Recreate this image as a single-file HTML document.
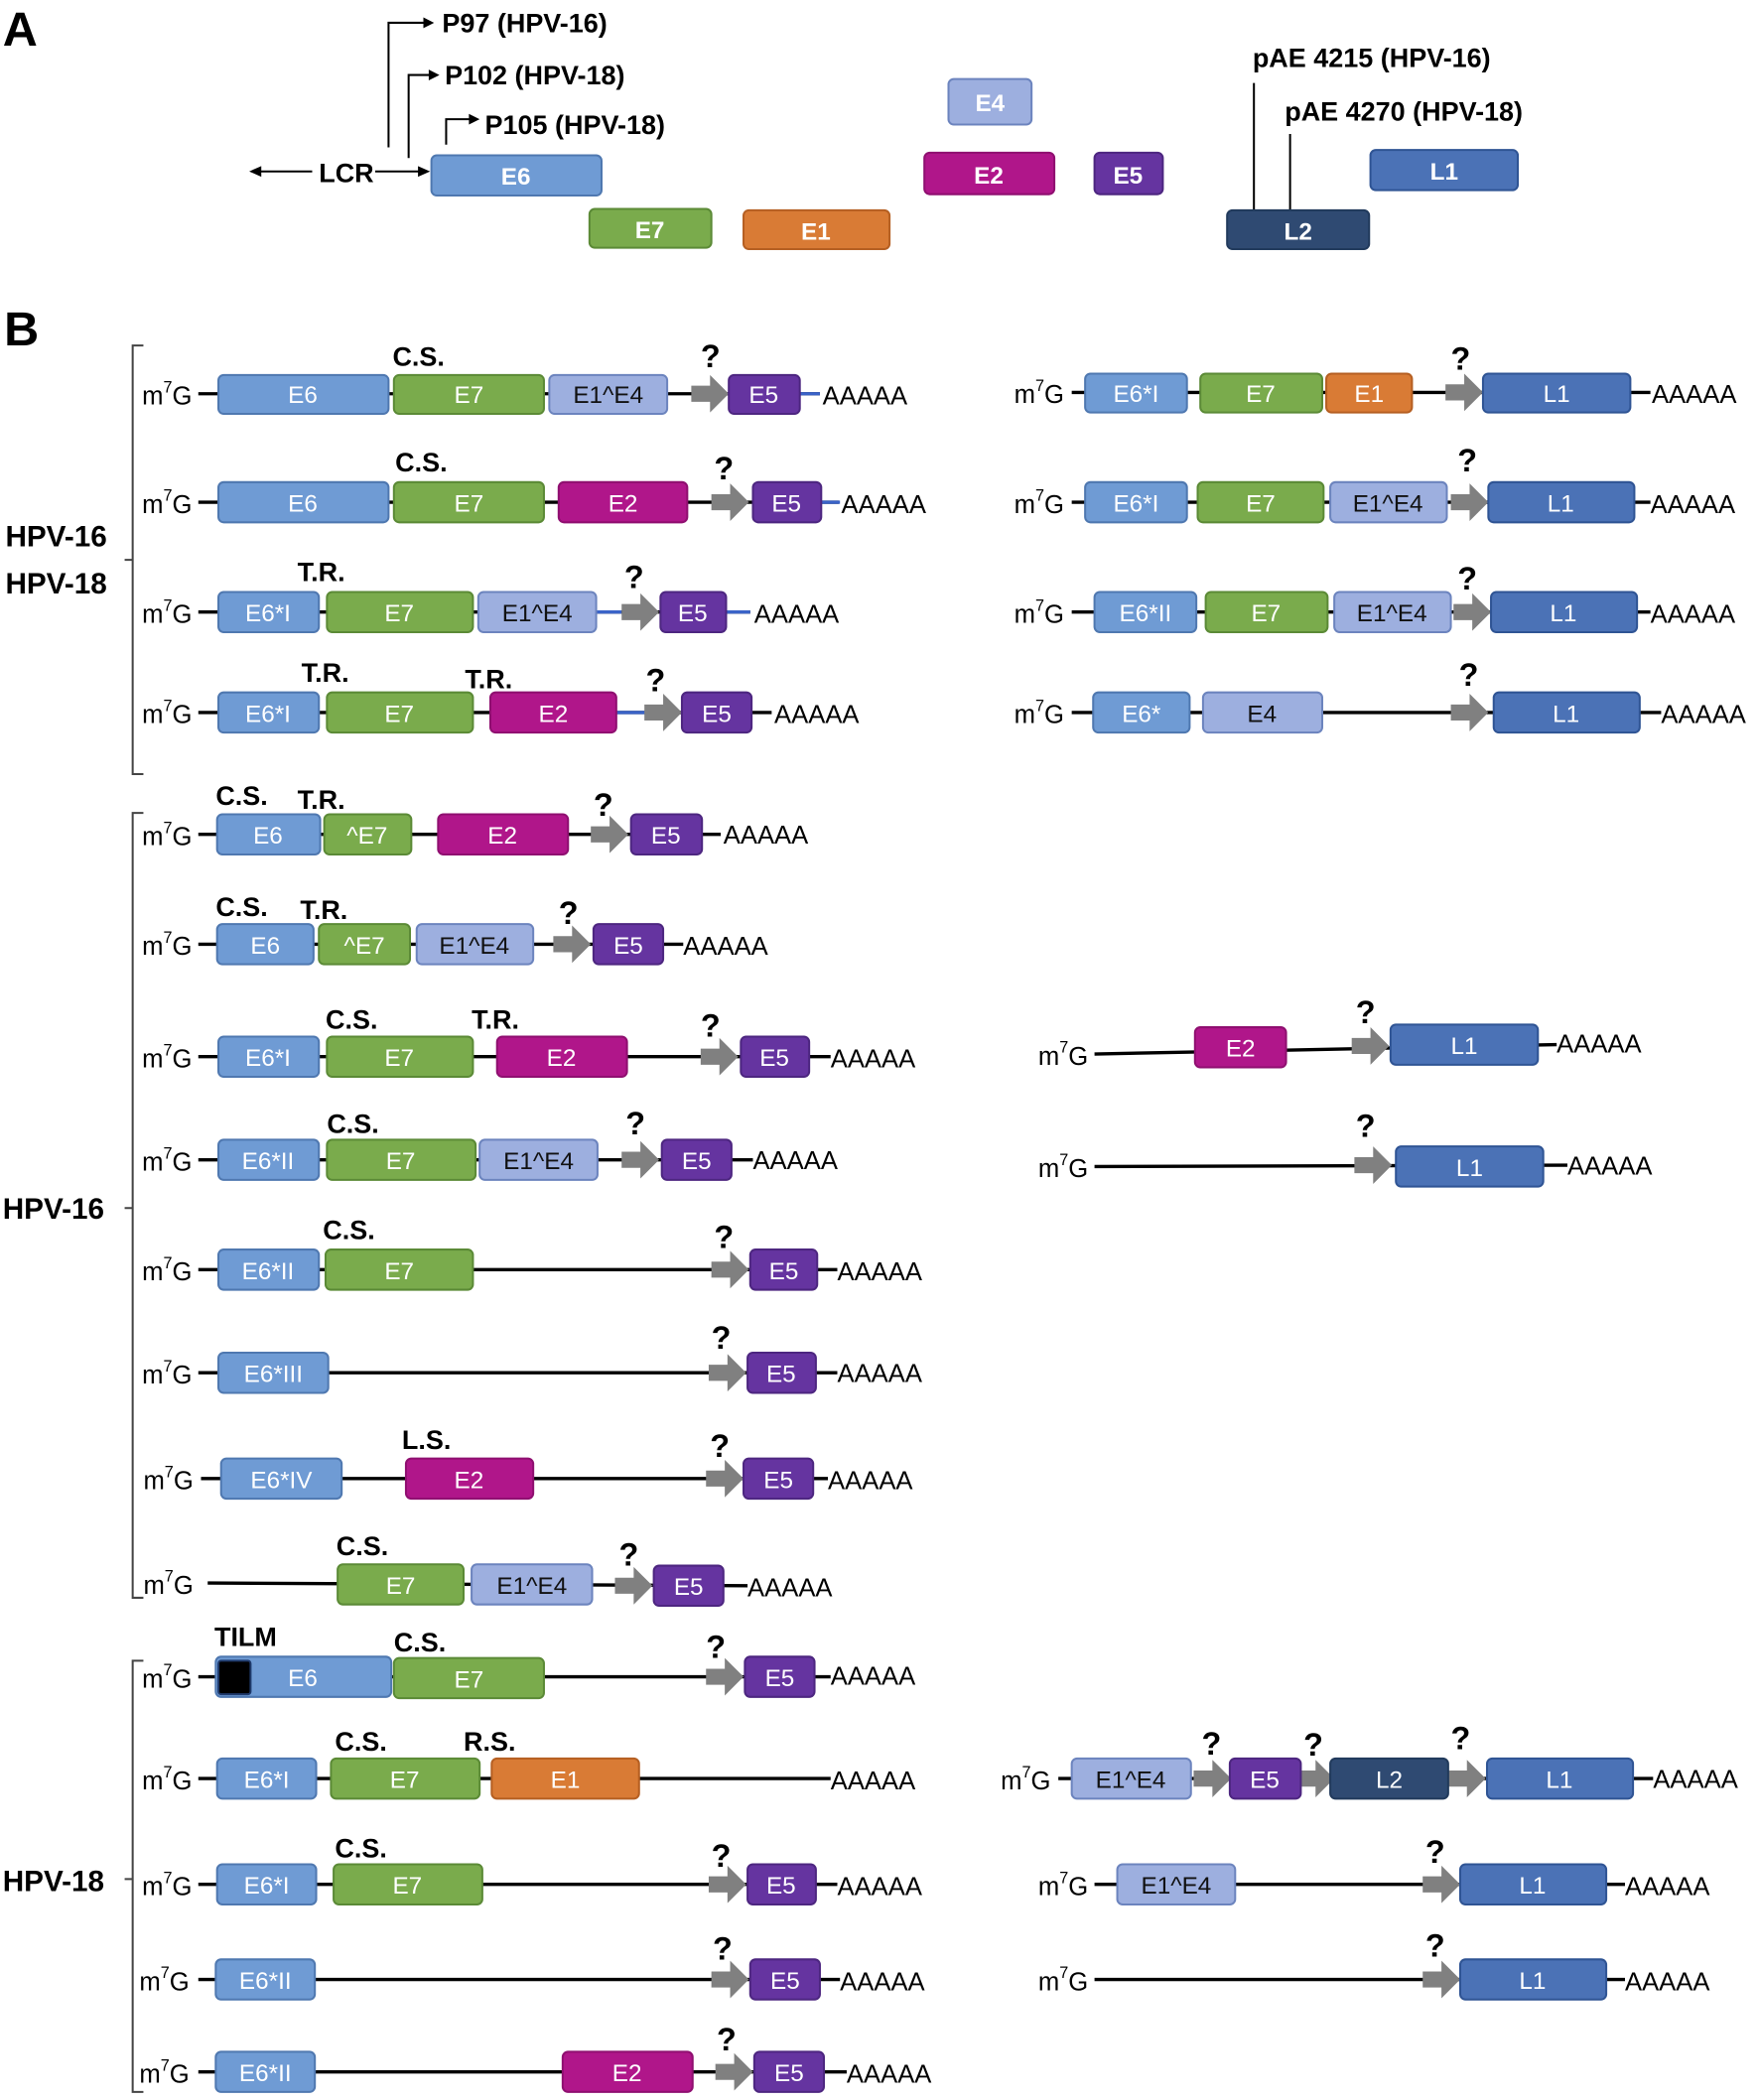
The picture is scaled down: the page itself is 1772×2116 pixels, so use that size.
<!DOCTYPE html>
<html><head><meta charset="utf-8"><style>
html,body{margin:0;padding:0;background:#fff}
svg{display:block}
text{font-family:"Liberation Sans",sans-serif}
.b6{fill:#6f9bd4;stroke:#4f78b0;stroke-width:1.5}
.b7{fill:#7aab4c;stroke:#5b8a36;stroke-width:1.5}
.b14{fill:#9dafdf;stroke:#6c84be;stroke-width:1.5}
.b2{fill:#b0168a;stroke:#8f0f70;stroke-width:1.5}
.b5{fill:#6534a0;stroke:#4d2680;stroke-width:1.5}
.b1{fill:#d97b35;stroke:#b55f22;stroke-width:1.5}
.bl1{fill:#4b72b6;stroke:#2f5494;stroke-width:1.5}
.bl2{fill:#2f4a72;stroke:#213a5c;stroke-width:1.5}
.t{fill:#fff;font-size:18px;text-anchor:middle}
.td{fill:#111;font-size:18px;text-anchor:middle}
.ta{fill:#fff;font-size:18px;font-weight:bold;text-anchor:middle}
.lb{font-size:20px;font-weight:bold}
.lb .q{font-size:24px}
.m{font-size:19px}
.ln{stroke:#000;stroke-width:2.5;fill:none}
.blu{stroke:#3a63c8;stroke-width:2.5}
.ar{fill:#808080}
.br{stroke:#444;stroke-width:1.5;fill:none}
</style></head><body>
<svg width="1772" height="2116" viewBox="0 0 1313 1568" xmlns="http://www.w3.org/2000/svg">
<defs>
<polygon id="ar" class="ar" points="0,-6 14,-6 14,-14 28,0 14,14 14,6 0,6"/>
</defs>
<!-- PART A -->
<text x="2" y="34" style="font-size:36px;font-weight:bold">A</text>
<g stroke="#000" stroke-width="1.5" fill="none">
<polyline points="290,110 290,17 318,17"/>
<polyline points="305,118 305,56 322,56"/>
<polyline points="333,108 333,89 352,89"/>
<line x1="233" y1="128" x2="192" y2="128"/>
<line x1="280" y1="128" x2="314" y2="128"/>
<line x1="936" y1="62" x2="936" y2="158"/>
<line x1="963" y1="100" x2="963" y2="158"/>
</g>
<g fill="#000">
<polygon points="324,17 316,13 316,21"/>
<polygon points="328,56 320,52 320,60"/>
<polygon points="358,89 350,85 350,93"/>
<polygon points="186,128 195,124 195,132"/>
<polygon points="321,128 312,124 312,132"/>
</g>
<text x="330" y="24" style="font-size:20px;font-weight:bold">P97 (HPV-16)</text>
<text x="332" y="63" style="font-size:20px;font-weight:bold">P102 (HPV-18)</text>
<text x="362" y="100" style="font-size:20px;font-weight:bold">P105 (HPV-18)</text>
<text x="238" y="136" style="font-size:20px;font-weight:bold">LCR</text>
<text x="935" y="50" style="font-size:20px;font-weight:bold">pAE 4215  (HPV-16)</text>
<text x="959" y="90" style="font-size:20px;font-weight:bold">pAE 4270  (HPV-18)</text>
<rect x="322" y="116" width="127" height="30" rx="4" class="b6"/><text x="385" y="138" class="ta">E6</text>
<rect x="440" y="156" width="91" height="29" rx="4" class="b7"/><text x="485" y="178" class="ta">E7</text>
<rect x="555" y="157" width="109" height="29" rx="4" class="b1"/><text x="609" y="179" class="ta">E1</text>
<rect x="708" y="59" width="62" height="34" rx="4" class="b14"/><text x="739" y="83" class="ta">E4</text>
<rect x="690" y="114" width="97" height="31" rx="4" class="b2"/><text x="738" y="137" class="ta">E2</text>
<rect x="817" y="114" width="51" height="31" rx="4" class="b5"/><text x="842" y="137" class="ta">E5</text>
<rect x="916" y="157" width="106" height="29" rx="4" class="bl2"/><text x="969" y="179" class="ta">L2</text>
<rect x="1023" y="112" width="110" height="30" rx="4" class="bl1"/><text x="1078" y="134" class="ta">L1</text>

<!-- PART B -->
<text x="3" y="258" style="font-size:36px;font-weight:bold">B</text>
<path class="br" d="M107,258 H99 V578 H107 M99,418 H93"/>
<text x="4" y="408" style="font-size:22px;font-weight:bold">HPV-16</text>
<text x="4" y="443" style="font-size:22px;font-weight:bold">HPV-18</text>
<path class="br" d="M107,607 H99 V1193 H107 M99,902 H93"/>
<text x="2" y="910" style="font-size:22px;font-weight:bold">HPV-16</text>
<path class="br" d="M107,1240 H99 V1562 H107 M99,1403 H93"/>
<text x="2" y="1412" style="font-size:22px;font-weight:bold">HPV-18</text>

<!-- lines -->
<g class="ln">
<line x1="148" y1="294" x2="612" y2="294"/>
<line x1="148" y1="375" x2="626" y2="375"/>
<line x1="148" y1="457" x2="560" y2="457"/>
<line x1="148" y1="532" x2="576" y2="532"/>
<line x1="800" y1="293" x2="1232" y2="293"/>
<line x1="800" y1="375" x2="1232" y2="375"/>
<line x1="800" y1="457" x2="1232" y2="457"/>
<line x1="800" y1="532" x2="1240" y2="532"/>
<line x1="148" y1="623" x2="538" y2="623"/>
<line x1="148" y1="705" x2="510" y2="705"/>
<line x1="148" y1="789" x2="620" y2="789"/>
<line x1="148" y1="866" x2="562" y2="866"/>
<line x1="148" y1="948" x2="625" y2="948"/>
<line x1="148" y1="1025" x2="625" y2="1025"/>
<line x1="150" y1="1104" x2="618" y2="1104"/>
<line x1="155" y1="1182" x2="558" y2="1184"/>
<line x1="817" y1="787" x2="1162" y2="780"/>
<line x1="817" y1="871" x2="1170" y2="870"/>
<line x1="148" y1="1252" x2="620" y2="1252"/>
<line x1="148" y1="1328" x2="620" y2="1328"/>
<line x1="790" y1="1328" x2="1234" y2="1328"/>
<line x1="148" y1="1407" x2="625" y2="1407"/>
<line x1="817" y1="1407" x2="1213" y2="1407"/>
<line x1="148" y1="1478" x2="627" y2="1478"/>
<line x1="817" y1="1478" x2="1213" y2="1478"/>
<line x1="148" y1="1547" x2="632" y2="1547"/>
</g>
<g class="blu">
<line x1="597" y1="294" x2="612" y2="294"/>
<line x1="613" y1="375" x2="627" y2="375"/>
<line x1="445" y1="457" x2="464" y2="457"/>
<line x1="542" y1="457" x2="560" y2="457"/>
<line x1="460" y1="532" x2="482" y2="532"/>
</g>

<!-- m7G labels -->
<g class="m">
<text x="106" y="302">m<tspan font-size="12" dy="-9">7</tspan><tspan dy="9">G</tspan></text>
<text x="106" y="383">m<tspan font-size="12" dy="-9">7</tspan><tspan dy="9">G</tspan></text>
<text x="106" y="465">m<tspan font-size="12" dy="-9">7</tspan><tspan dy="9">G</tspan></text>
<text x="106" y="540">m<tspan font-size="12" dy="-9">7</tspan><tspan dy="9">G</tspan></text>
<text x="757" y="301">m<tspan font-size="12" dy="-9">7</tspan><tspan dy="9">G</tspan></text>
<text x="757" y="383">m<tspan font-size="12" dy="-9">7</tspan><tspan dy="9">G</tspan></text>
<text x="757" y="465">m<tspan font-size="12" dy="-9">7</tspan><tspan dy="9">G</tspan></text>
<text x="757" y="540">m<tspan font-size="12" dy="-9">7</tspan><tspan dy="9">G</tspan></text>
<text x="106" y="631">m<tspan font-size="12" dy="-9">7</tspan><tspan dy="9">G</tspan></text>
<text x="106" y="713">m<tspan font-size="12" dy="-9">7</tspan><tspan dy="9">G</tspan></text>
<text x="106" y="797">m<tspan font-size="12" dy="-9">7</tspan><tspan dy="9">G</tspan></text>
<text x="106" y="874">m<tspan font-size="12" dy="-9">7</tspan><tspan dy="9">G</tspan></text>
<text x="106" y="956">m<tspan font-size="12" dy="-9">7</tspan><tspan dy="9">G</tspan></text>
<text x="106" y="1033">m<tspan font-size="12" dy="-9">7</tspan><tspan dy="9">G</tspan></text>
<text x="107" y="1112">m<tspan font-size="12" dy="-9">7</tspan><tspan dy="9">G</tspan></text>
<text x="107" y="1190">m<tspan font-size="12" dy="-9">7</tspan><tspan dy="9">G</tspan></text>
<text x="775" y="795">m<tspan font-size="12" dy="-9">7</tspan><tspan dy="9">G</tspan></text>
<text x="775" y="879">m<tspan font-size="12" dy="-9">7</tspan><tspan dy="9">G</tspan></text>
<text x="106" y="1260">m<tspan font-size="12" dy="-9">7</tspan><tspan dy="9">G</tspan></text>
<text x="106" y="1336">m<tspan font-size="12" dy="-9">7</tspan><tspan dy="9">G</tspan></text>
<text x="747" y="1336">m<tspan font-size="12" dy="-9">7</tspan><tspan dy="9">G</tspan></text>
<text x="106" y="1415">m<tspan font-size="12" dy="-9">7</tspan><tspan dy="9">G</tspan></text>
<text x="775" y="1415">m<tspan font-size="12" dy="-9">7</tspan><tspan dy="9">G</tspan></text>
<text x="104" y="1486">m<tspan font-size="12" dy="-9">7</tspan><tspan dy="9">G</tspan></text>
<text x="775" y="1486">m<tspan font-size="12" dy="-9">7</tspan><tspan dy="9">G</tspan></text>
<text x="104" y="1555">m<tspan font-size="12" dy="-9">7</tspan><tspan dy="9">G</tspan></text>
</g>

<!-- AAAAA labels -->
<g class="m">
<text x="614" y="302">AAAAA</text>
<text x="628" y="383">AAAAA</text>
<text x="563" y="465">AAAAA</text>
<text x="578" y="540">AAAAA</text>
<text x="1233" y="301">AAAAA</text>
<text x="1232" y="383">AAAAA</text>
<text x="1232" y="465">AAAAA</text>
<text x="1240" y="540">AAAAA</text>
<text x="540" y="630">AAAAA</text>
<text x="510" y="713">AAAAA</text>
<text x="620" y="797">AAAAA</text>
<text x="562" y="873">AAAAA</text>
<text x="625" y="956">AAAAA</text>
<text x="625" y="1032">AAAAA</text>
<text x="618" y="1112">AAAAA</text>
<text x="558" y="1192">AAAAA</text>
<text x="1162" y="786">AAAAA</text>
<text x="1170" y="877">AAAAA</text>
<text x="620" y="1258">AAAAA</text>
<text x="620" y="1336">AAAAA</text>
<text x="1234" y="1335">AAAAA</text>
<text x="625" y="1415">AAAAA</text>
<text x="1213" y="1415">AAAAA</text>
<text x="627" y="1486">AAAAA</text>
<text x="1213" y="1486">AAAAA</text>
<text x="632" y="1555">AAAAA</text>
</g>

<!-- annotations -->
<g class="lb">
<text x="293" y="273">C.S.</text><text class="q" x="523" y="274">?</text>
<text class="q" x="1083" y="276">?</text>
<text x="295" y="352">C.S.</text><text class="q" x="533" y="358">?</text>
<text class="q" x="1088" y="352">?</text>
<text x="222" y="434">T.R.</text><text class="q" x="466" y="439">?</text>
<text class="q" x="1088" y="440">?</text>
<text x="225" y="509">T.R.</text><text x="347" y="514">T.R.</text><text class="q" x="482" y="516">?</text>
<text class="q" x="1089" y="512">?</text>
<text x="161" y="601">C.S.</text><text x="222" y="604">T.R.</text><text class="q" x="443" y="609">?</text>
<text x="161" y="684">C.S.</text><text x="224" y="686">T.R.</text><text class="q" x="417" y="690">?</text>
<text x="243" y="768">C.S.</text><text x="352" y="768">T.R.</text><text class="q" x="523" y="774">?</text>
<text class="q" x="1012" y="764">?</text>
<text x="244" y="846">C.S.</text><text class="q" x="467" y="847">?</text>
<text class="q" x="1012" y="849">?</text>
<text x="241" y="925">C.S.</text><text class="q" x="533" y="932">?</text>
<text class="q" x="531" y="1007">?</text>
<text x="300" y="1082">L.S.</text><text class="q" x="530" y="1088">?</text>
<text x="251" y="1161">C.S.</text><text class="q" x="462" y="1169">?</text>
<text x="160" y="1229">TILM</text><text x="294" y="1233">C.S.</text><text class="q" x="527" y="1238">?</text>
<text x="250" y="1307">C.S.</text><text x="346" y="1307">R.S.</text>
<text class="q" x="897" y="1310">?</text><text class="q" x="973" y="1311">?</text><text class="q" x="1083" y="1306">?</text>
<text x="250" y="1387">C.S.</text><text class="q" x="531" y="1394">?</text>
<text class="q" x="1064" y="1391">?</text>
<text class="q" x="532" y="1463">?</text><text class="q" x="1064" y="1461">?</text>
<text class="q" x="535" y="1531">?</text>
</g>

<!-- arrows -->
<use href="#ar" x="516" y="294"/>
<use href="#ar" x="531" y="375"/>
<use href="#ar" x="464" y="457"/>
<use href="#ar" x="481" y="532"/>
<use href="#ar" x="1079" y="293"/>
<use href="#ar" x="1083" y="375"/>
<use href="#ar" x="1085" y="457"/>
<use href="#ar" x="1083" y="532"/>
<use href="#ar" x="441" y="623"/>
<use href="#ar" x="413" y="705"/>
<use href="#ar" x="523" y="789"/>
<use href="#ar" x="464" y="866"/>
<use href="#ar" x="531" y="948"/>
<use href="#ar" x="529" y="1025"/>
<use href="#ar" x="527" y="1104"/>
<use href="#ar" x="459" y="1184"/>
<use href="#ar" x="1009" y="781"/>
<use href="#ar" x="1011" y="870"/>
<use href="#ar" x="527" y="1252"/>
<use href="#ar" x="891" y="1328"/>
<use href="#ar" x="968" y="1328"/>
<use href="#ar" x="1081" y="1328"/>
<use href="#ar" x="529" y="1407"/>
<use href="#ar" x="1062" y="1407"/>
<use href="#ar" x="531" y="1478"/>
<use href="#ar" x="1062" y="1478"/>
<use href="#ar" x="534" y="1547"/>

<!-- boxes row 1 -->
<rect x="163" y="280" width="127" height="29" rx="4" class="b6"/><text x="226" y="301" class="t">E6</text>
<rect x="294" y="280" width="112" height="29" rx="4" class="b7"/><text x="350" y="301" class="t">E7</text>
<rect x="410" y="280" width="88" height="29" rx="4" class="b14"/><text x="454" y="301" class="td">E1^E4</text>
<rect x="544" y="280" width="53" height="29" rx="4" class="b5"/><text x="570" y="301" class="t">E5</text>
<rect x="810" y="279" width="76" height="29" rx="4" class="b6"/><text x="848" y="300" class="t">E6*I</text>
<rect x="896" y="279" width="91" height="29" rx="4" class="b7"/><text x="941" y="300" class="t">E7</text>
<rect x="990" y="279" width="64" height="29" rx="4" class="b1"/><text x="1022" y="300" class="t">E1</text>
<rect x="1107" y="279" width="110" height="29" rx="4" class="bl1"/><text x="1162" y="300" class="t">L1</text>
<!-- row 2 -->
<rect x="163" y="360" width="127" height="30" rx="4" class="b6"/><text x="226" y="382" class="t">E6</text>
<rect x="294" y="360" width="112" height="30" rx="4" class="b7"/><text x="350" y="382" class="t">E7</text>
<rect x="417" y="360" width="96" height="30" rx="4" class="b2"/><text x="465" y="382" class="t">E2</text>
<rect x="562" y="360" width="51" height="30" rx="4" class="b5"/><text x="587" y="382" class="t">E5</text>
<rect x="810" y="360" width="76" height="30" rx="4" class="b6"/><text x="848" y="382" class="t">E6*I</text>
<rect x="894" y="360" width="94" height="30" rx="4" class="b7"/><text x="941" y="382" class="t">E7</text>
<rect x="993" y="360" width="87" height="30" rx="4" class="b14"/><text x="1036" y="382" class="td">E1^E4</text>
<rect x="1111" y="360" width="109" height="30" rx="4" class="bl1"/><text x="1165" y="382" class="t">L1</text>
<!-- row 3 -->
<rect x="163" y="442" width="75" height="30" rx="4" class="b6"/><text x="200" y="464" class="t">E6*I</text>
<rect x="244" y="442" width="109" height="30" rx="4" class="b7"/><text x="298" y="464" class="t">E7</text>
<rect x="357" y="442" width="88" height="30" rx="4" class="b14"/><text x="401" y="464" class="td">E1^E4</text>
<rect x="493" y="442" width="49" height="30" rx="4" class="b5"/><text x="517" y="464" class="t">E5</text>
<rect x="817" y="442" width="76" height="30" rx="4" class="b6"/><text x="855" y="464" class="t">E6*II</text>
<rect x="900" y="442" width="91" height="30" rx="4" class="b7"/><text x="945" y="464" class="t">E7</text>
<rect x="996" y="442" width="87" height="30" rx="4" class="b14"/><text x="1039" y="464" class="td">E1^E4</text>
<rect x="1113" y="442" width="109" height="30" rx="4" class="bl1"/><text x="1167" y="464" class="t">L1</text>
<!-- row 4 -->
<rect x="163" y="517" width="75" height="30" rx="4" class="b6"/><text x="200" y="539" class="t">E6*I</text>
<rect x="244" y="517" width="109" height="30" rx="4" class="b7"/><text x="298" y="539" class="t">E7</text>
<rect x="366" y="517" width="94" height="30" rx="4" class="b2"/><text x="413" y="539" class="t">E2</text>
<rect x="509" y="517" width="52" height="30" rx="4" class="b5"/><text x="535" y="539" class="t">E5</text>
<rect x="816" y="517" width="72" height="30" rx="4" class="b6"/><text x="852" y="539" class="t">E6*</text>
<rect x="898" y="517" width="89" height="30" rx="4" class="b14"/><text x="942" y="539" class="td">E4</text>
<rect x="1115" y="517" width="109" height="30" rx="4" class="bl1"/><text x="1169" y="539" class="t">L1</text>
<!-- row 5 -->
<rect x="162" y="608" width="77" height="30" rx="4" class="b6"/><text x="200" y="630" class="t">E6</text>
<rect x="242" y="608" width="65" height="30" rx="4" class="b7"/><text x="274" y="630" class="t">^E7</text>
<rect x="327" y="608" width="97" height="30" rx="4" class="b2"/><text x="375" y="630" class="t">E2</text>
<rect x="471" y="608" width="53" height="30" rx="4" class="b5"/><text x="497" y="630" class="t">E5</text>
<!-- row 6 -->
<rect x="162" y="690" width="72" height="30" rx="4" class="b6"/><text x="198" y="712" class="t">E6</text>
<rect x="238" y="690" width="68" height="30" rx="4" class="b7"/><text x="272" y="712" class="t">^E7</text>
<rect x="311" y="690" width="87" height="30" rx="4" class="b14"/><text x="354" y="712" class="td">E1^E4</text>
<rect x="443" y="690" width="52" height="30" rx="4" class="b5"/><text x="469" y="712" class="t">E5</text>
<!-- row 7 -->
<rect x="163" y="774" width="75" height="30" rx="4" class="b6"/><text x="200" y="796" class="t">E6*I</text>
<rect x="244" y="774" width="109" height="30" rx="4" class="b7"/><text x="298" y="796" class="t">E7</text>
<rect x="371" y="774" width="97" height="30" rx="4" class="b2"/><text x="419" y="796" class="t">E2</text>
<rect x="553" y="774" width="51" height="30" rx="4" class="b5"/><text x="578" y="796" class="t">E5</text>
<rect x="892" y="767" width="68" height="30" rx="4" class="b2"/><text x="926" y="789" class="t">E2</text>
<rect x="1038" y="765" width="110" height="30" rx="4" class="bl1"/><text x="1093" y="787" class="t">L1</text>
<!-- row 8 -->
<rect x="163" y="851" width="75" height="30" rx="4" class="b6"/><text x="200" y="873" class="t">E6*II</text>
<rect x="244" y="851" width="111" height="30" rx="4" class="b7"/><text x="299" y="873" class="t">E7</text>
<rect x="358" y="851" width="88" height="30" rx="4" class="b14"/><text x="402" y="873" class="td">E1^E4</text>
<rect x="494" y="851" width="52" height="30" rx="4" class="b5"/><text x="520" y="873" class="t">E5</text>
<rect x="1042" y="856" width="110" height="30" rx="4" class="bl1"/><text x="1097" y="878" class="t">L1</text>
<!-- row 9 -->
<rect x="163" y="933" width="75" height="30" rx="4" class="b6"/><text x="200" y="955" class="t">E6*II</text>
<rect x="243" y="933" width="110" height="30" rx="4" class="b7"/><text x="298" y="955" class="t">E7</text>
<rect x="560" y="933" width="50" height="30" rx="4" class="b5"/><text x="585" y="955" class="t">E5</text>
<!-- row 10 -->
<rect x="163" y="1010" width="82" height="30" rx="4" class="b6"/><text x="204" y="1032" class="t">E6*III</text>
<rect x="558" y="1010" width="51" height="30" rx="4" class="b5"/><text x="583" y="1032" class="t">E5</text>
<!-- row 11 -->
<rect x="165" y="1089" width="90" height="30" rx="4" class="b6"/><text x="210" y="1111" class="t">E6*IV</text>
<rect x="303" y="1089" width="95" height="30" rx="4" class="b2"/><text x="350" y="1111" class="t">E2</text>
<rect x="555" y="1089" width="52" height="30" rx="4" class="b5"/><text x="581" y="1111" class="t">E5</text>
<!-- row 12 -->
<rect x="252" y="1168" width="94" height="30" rx="4" class="b7"/><text x="299" y="1190" class="t">E7</text>
<rect x="352" y="1168" width="90" height="30" rx="4" class="b14"/><text x="397" y="1190" class="td">E1^E4</text>
<rect x="488" y="1169" width="52" height="30" rx="4" class="b5"/><text x="514" y="1191" class="t">E5</text>
<!-- row 13 -->
<rect x="161" y="1237" width="131" height="30" rx="4" class="b6"/>
<rect x="163" y="1240" width="24" height="25" rx="2" fill="#000" stroke="#1f3a6c" stroke-width="1.5"/>
<text x="226" y="1259" class="t">E6</text>
<rect x="294" y="1238" width="112" height="30" rx="4" class="b7"/><text x="350" y="1260" class="t">E7</text>
<rect x="556" y="1237" width="52" height="30" rx="4" class="b5"/><text x="582" y="1259" class="t">E5</text>
<!-- row 14 -->
<rect x="162" y="1313" width="74" height="30" rx="4" class="b6"/><text x="199" y="1335" class="t">E6*I</text>
<rect x="247" y="1313" width="111" height="30" rx="4" class="b7"/><text x="302" y="1335" class="t">E7</text>
<rect x="367" y="1313" width="110" height="30" rx="4" class="b1"/><text x="422" y="1335" class="t">E1</text>
<rect x="800" y="1313" width="89" height="30" rx="4" class="b14"/><text x="844" y="1335" class="td">E1^E4</text>
<rect x="918" y="1313" width="53" height="30" rx="4" class="b5"/><text x="944" y="1335" class="t">E5</text>
<rect x="993" y="1313" width="88" height="30" rx="4" class="bl2"/><text x="1037" y="1335" class="t">L2</text>
<rect x="1110" y="1313" width="109" height="30" rx="4" class="bl1"/><text x="1164" y="1335" class="t">L1</text>
<!-- row 15 -->
<rect x="162" y="1392" width="74" height="30" rx="4" class="b6"/><text x="199" y="1414" class="t">E6*I</text>
<rect x="249" y="1392" width="111" height="30" rx="4" class="b7"/><text x="304" y="1414" class="t">E7</text>
<rect x="558" y="1392" width="51" height="30" rx="4" class="b5"/><text x="583" y="1414" class="t">E5</text>
<rect x="834" y="1392" width="88" height="30" rx="4" class="b14"/><text x="878" y="1414" class="td">E1^E4</text>
<rect x="1090" y="1392" width="109" height="30" rx="4" class="bl1"/><text x="1144" y="1414" class="t">L1</text>
<!-- row 16 -->
<rect x="161" y="1463" width="74" height="30" rx="4" class="b6"/><text x="198" y="1485" class="t">E6*II</text>
<rect x="560" y="1463" width="52" height="30" rx="4" class="b5"/><text x="586" y="1485" class="t">E5</text>
<rect x="1090" y="1463" width="109" height="30" rx="4" class="bl1"/><text x="1144" y="1485" class="t">L1</text>
<!-- row 17 -->
<rect x="161" y="1532" width="74" height="30" rx="4" class="b6"/><text x="198" y="1554" class="t">E6*II</text>
<rect x="420" y="1532" width="97" height="30" rx="4" class="b2"/><text x="468" y="1554" class="t">E2</text>
<rect x="563" y="1532" width="52" height="30" rx="4" class="b5"/><text x="589" y="1554" class="t">E5</text>
</svg>
</body></html>
